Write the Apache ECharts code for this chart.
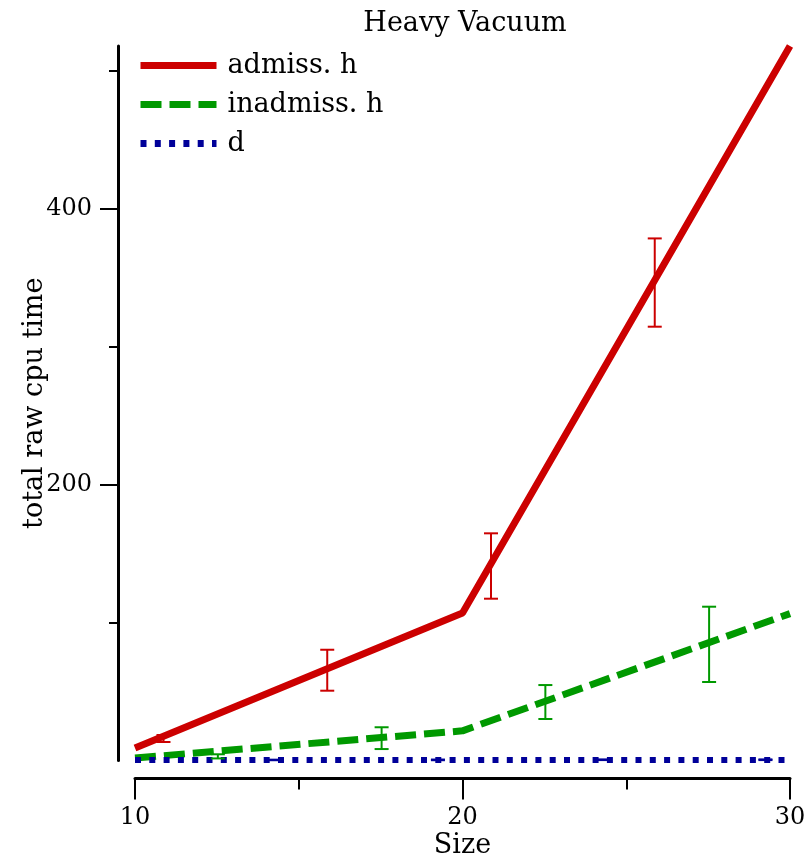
<!DOCTYPE html>
<html>

<head>
    <meta charset="UTF-8">
    <title>Heavy Vacuum</title>
    <script src="https://cdn.jsdelivr.net/npm/echarts@6/dist/echarts.min.js"></script>
    <style>
        body { margin: 0; background: #fff; }
    </style>
</head>

<body>
    <div id="main" style="width: 808px; height: 855px;"></div>

    <script type="text/javascript">
        // 横轴 Size
        var sizes = [10, 20, 30];
        // 三条曲线
        var admissH = [9, 107, 518];
        var inadmissH = [1.8, 21.5, 106.5];
        var dVal = [0.3, 0.4, 0.4];

        // 误差线 (x, 下限, 上限)
        var admissErrX = [10.87, 15.87, 20.87, 25.87];
        var admissLow = [13.4, 50.6, 117.3, 314.5];
        var admissHigh = [18.5, 80.3, 164.7, 378.5];
        var inadmissErrX = [12.53, 17.53, 22.53, 27.53];
        var inadmissLow = [1.5, 8.3, 30.1, 56.9];
        var inadmissHigh = [4.5, 24.1, 54.7, 111.5];
        var dErrX = [14.25, 19.25, 24.25, 29.25];
        var dLow = [0.2, 0.2, 0.3, 0.3];
        var dHigh = [0.6, 0.7, 0.8, 0.8];

        // 刻度
        var yMajorTicks = [200, 400];
        var xMajorTicks = [10, 20, 30];

        var FONT = 'DejaVu Serif';
        var RED = '#cc0000', GREEN = '#009900', BLUE = '#000099';

        function pairs(xs, ys) {
            var out = [];
            for (let i = 0; i < xs.length; i++) out.push([xs[i], ys[i]]);
            return out;
        }

        function errData(xs, lo, hi) {
            var out = [];
            for (let i = 0; i < xs.length; i++) out.push([xs[i], lo[i], hi[i]]);
            return out;
        }

        function errSeries(name, color, data) {
            return {
                name: name,
                type: 'custom',
                data: data,
                encode: { x: 0, y: [1, 2] },
                z: 3,
                renderItem: function (params, api) {
                    var top = api.coord([api.value(0), api.value(2)]);
                    var bot = api.coord([api.value(0), api.value(1)]);
                    var hw = 7;
                    var style = { stroke: color, lineWidth: 2 };
                    return {
                        type: 'group',
                        children: [
                            { type: 'line', shape: { x1: top[0], y1: top[1], x2: bot[0], y2: bot[1] }, style: style },
                            { type: 'line', shape: { x1: top[0] - hw, y1: top[1], x2: top[0] + hw, y2: top[1] }, style: style },
                            { type: 'line', shape: { x1: bot[0] - hw, y1: bot[1], x2: bot[0] + hw, y2: bot[1] }, style: style }
                        ]
                    };
                }
            };
        }

        var myChart = echarts.init(document.getElementById('main'));

        var option = {
            animation: false,
            title: {
                text: 'Heavy Vacuum',
                left: 460,
                top: 5,
                textAlign: 'center',
                textStyle: { fontFamily: FONT, fontSize: 27, fontWeight: 'normal', color: '#000' }
            },
            legend: {
                data: ['admiss. h', 'inadmiss. h', 'd'],
                orient: 'vertical',
                left: 137,
                top: 52,
                padding: 0,
                itemWidth: 76,
                itemHeight: 26,
                itemGap: 12,
                itemStyle: { opacity: 0 },
                lineStyle: { width: 7 },
                textStyle: { fontFamily: FONT, fontSize: 27, color: '#000', padding: [0, 0, 0, 6] }
            },
            grid: {
                left: 135,
                right: 18,
                top: 46,
                bottom: 94.5,
                containLabel: false,
                outerBoundsMode: 'none'
            },
            xAxis: {
                type: 'value',
                min: 10,
                max: 30,
                interval: 10,
                offset: 18,
                name: 'Size',
                nameLocation: 'middle',
                nameGap: 54,
                nameMoveOverlap: false,
                nameTextStyle: { fontFamily: FONT, fontSize: 27, color: '#000' },
                axisLine: { show: true, onZero: false, lineStyle: { color: '#000', width: 3 } },
                axisTick: { show: true, length: 21, customValues: xMajorTicks, lineStyle: { color: '#000', width: 2 } },
                minorTick: { show: true, splitNumber: 2, length: 11, lineStyle: { color: '#000', width: 2 } },
                axisLabel: { margin: 27, customValues: xMajorTicks, fontFamily: FONT, fontSize: 24, color: '#000' },
                splitLine: { show: false }
            },
            yAxis: {
                type: 'value',
                min: 0,
                max: 518,
                interval: 200,
                offset: 17,
                name: 'total raw cpu time',
                nameLocation: 'middle',
                nameGap: 70,
                nameMoveOverlap: false,
                nameTextStyle: { fontFamily: FONT, fontSize: 27, color: '#000' },
                axisLine: { show: true, onZero: false, lineStyle: { color: '#000', width: 3 } },
                axisTick: { show: true, length: 18, customValues: yMajorTicks, lineStyle: { color: '#000', width: 2 } },
                minorTick: { show: true, splitNumber: 2, length: 9, lineStyle: { color: '#000', width: 2 } },
                axisLabel: { margin: 26, customValues: yMajorTicks, fontFamily: FONT, fontSize: 24, color: '#000' },
                splitLine: { show: false }
            },
            series: [
                {
                    name: 'admiss. h',
                    type: 'line',
                    data: pairs(sizes, admissH),
                    symbol: 'none',
                    z: 2,
                    lineStyle: { color: RED, width: 7, type: 'solid' },
                    itemStyle: { color: RED }
                },
                {
                    name: 'inadmiss. h',
                    type: 'line',
                    data: pairs(sizes, inadmissH),
                    symbol: 'none',
                    z: 2,
                    lineStyle: { color: GREEN, width: 7, type: [21, 8] },
                    itemStyle: { color: GREEN }
                },
                {
                    name: 'd',
                    type: 'line',
                    data: pairs(sizes, dVal),
                    symbol: 'none',
                    z: 2,
                    lineStyle: { color: BLUE, width: 6, type: [6, 8.3] },
                    itemStyle: { color: BLUE }
                },
                errSeries('admiss. h err', RED, errData(admissErrX, admissLow, admissHigh)),
                errSeries('inadmiss. h err', GREEN, errData(inadmissErrX, inadmissLow, inadmissHigh)),
                errSeries('d err', BLUE, errData(dErrX, dLow, dHigh))
            ]
        };

        myChart.setOption(option);
    </script>

</body>

</html>
